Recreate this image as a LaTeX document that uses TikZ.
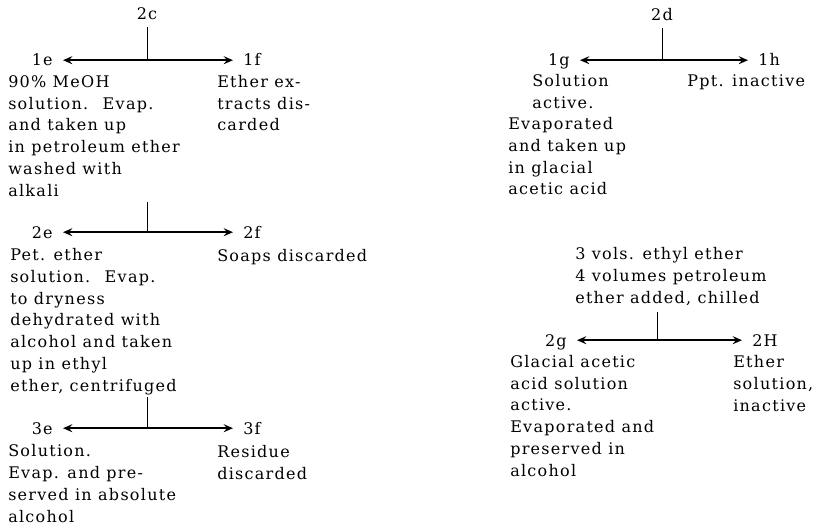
\documentclass[tikz,border=0pt]{standalone}
\usepackage{fontspec}
\setmainfont{DejaVu Serif}[LetterSpace=8]
\usetikzlibrary{arrows.meta,calc}

\begin{document}
\begin{tikzpicture}[x=0.75pt, y=-0.75pt, >={Stealth[length=7pt,width=6pt,inset=2.5pt]},
	every node/.style={font=\fontsize{12}{16.3}\selectfont},
	head/.style={inner xsep=0pt, inner ysep=5pt, anchor=base},
	lbl/.style={inner xsep=7.5pt, inner ysep=0pt, text height=8.7pt, text depth=0pt},
	txt/.style={align=left, anchor=base west, inner sep=0pt},
	split/.style={line width=1.5pt, <->}]

			\useasboundingbox (0,0) rectangle (818,528);

			% 2c split (text nodes sit on their last line)
			\node[head] (2c) at (147,20) {2c};
			\node[lbl, anchor=base east] (1e) at (63,66) {1e};
			\node[lbl, anchor=base west] (1f) at (233,66) {1f};
			\node[txt] (t1e) at (8,196) {90\% MeOH\\solution.\hspace{0.9em}Evap.\\and taken up\\in petroleum ether\\washed with\\alkali};
			\node[txt] (t1f) at (217,131) {Ether ex-\\tracts dis-\\carded};
			\draw (2c) -- (2c |- 1e);
			\draw[split] (1e) -- (1f);

			% 1e split
			\coordinate (s1e) at (147,202);
			\node[lbl, anchor=base east] (2e) at (63,238) {2e};
			\node[lbl, anchor=base west] (2f) at (233,238) {2f};
			\node[txt] (t2e) at (10,391) {Pet. ether\\solution.\hspace{0.9em}Evap.\\to dryness\\dehydrated with\\alcohol and taken\\up in ethyl\\ether, centrifuged};
			\node[txt] (t2f) at (217,261) {Soaps discarded};
			\draw (s1e) -- (s1e |- 2e);
			\draw[split] (2e) -- (2f);

			% 2e split
			\coordinate (s2e) at (147,397);
			\node[lbl, anchor=base east] (3e) at (63,434) {3e};
			\node[lbl, anchor=base west] (3f) at (233,434) {3f};
			\node[txt] (t3e) at (8,522) {Solution.\\Evap. and pre-\\served in absolute\\alcohol};
			\node[txt] (t3f) at (217,479) {Residue\\discarded};
			\draw (s2e) -- (s2e |- 3e);
			\draw[split] (3e) -- (3f);

			% 2d split
			\node[head] (2d) at (662,21) {2d};
			\node[lbl, anchor=base east] (1g) at (580,66) {1g};
			\node[lbl, anchor=base west] (1h) at (748,66) {1h};
			\node[txt] (t1g) at (508,195) {\hspace*{18pt}Solution\\\hspace*{18pt}active.\\Evaporated\\and taken up\\in glacial\\acetic acid};
			\node[txt] (t1h) at (687,87) {Ppt. inactive};
			\draw (2d) -- (2d |- 1g);
			\draw[split] (1g) -- (1h);

			% 1g split
			\node[txt] (h1g) at (575,303) {3 vols. ethyl ether\\4 volumes petroleum\\ether added, chilled};
			\coordinate (s1g) at (657,312);
			\node[lbl, anchor=base east] (2g) at (577,346) {2g};
			\node[lbl, anchor=base west] (2H) at (742,346) {2H};
			\node[txt] (t2g) at (510,476) {Glacial acetic\\acid solution\\active.\\Evaporated and\\preserved in\\alcohol};
			\node[txt] (t2H) at (733,411) {Ether\\solution,\\inactive};
			\draw (s1g) -- (s1g |- 2g);
			\draw[split] (2g) -- (2H);

		\end{tikzpicture}
\end{document}
